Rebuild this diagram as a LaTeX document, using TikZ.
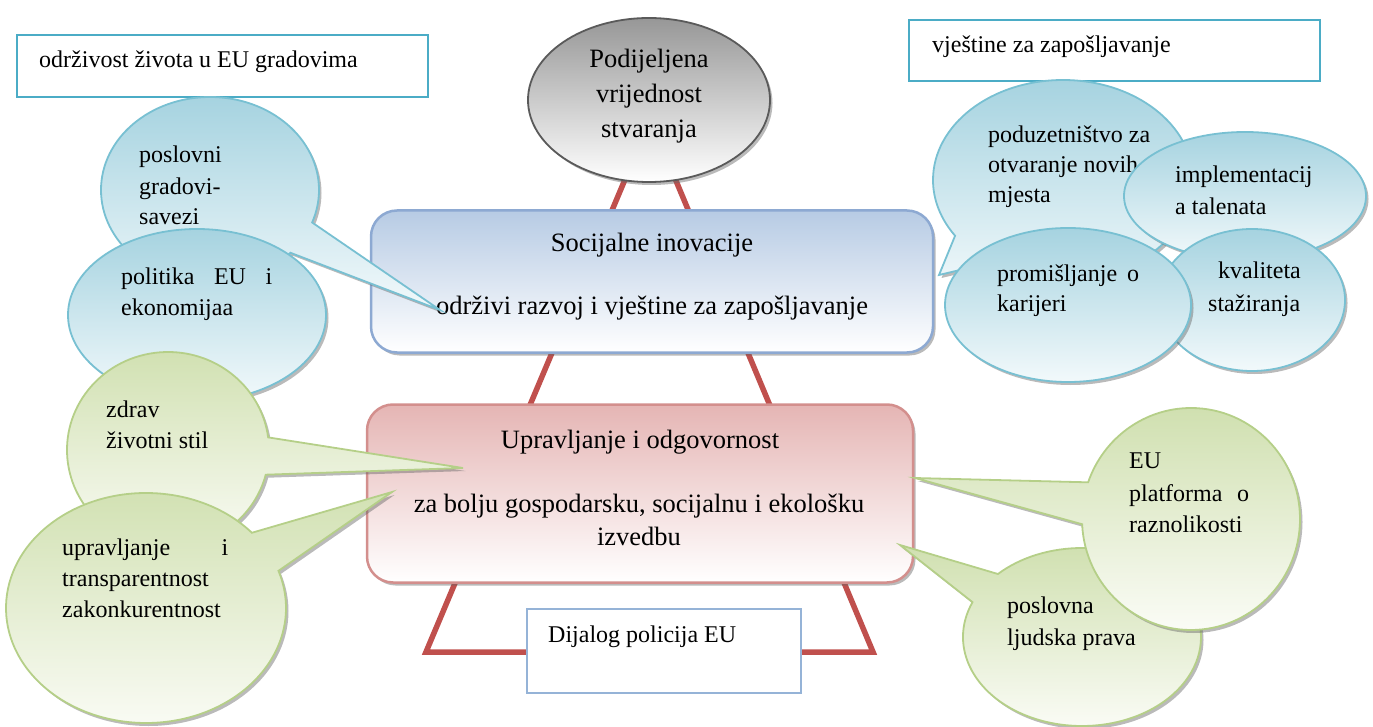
\documentclass[tikz,border=0pt]{standalone}
\usepackage{fontspec}
\setmainfont{Liberation Serif}
\usetikzlibrary{shapes.geometric,shapes.callouts,shadows}
\definecolor{bubtop}{HTML}{A6D3E0}
\definecolor{bubbot}{HTML}{F2F9FB}
\definecolor{bubbord}{HTML}{78C0D2}
\definecolor{grtop}{HTML}{D0E0B0}
\definecolor{grbot}{HTML}{FBFCF7}
\definecolor{grbord}{HTML}{B5CF88}
\definecolor{bbtop}{HTML}{B7CBE4}
\definecolor{bbbord}{HTML}{8DA9D2}
\definecolor{rbtop}{HTML}{E5B5B4}
\definecolor{rbbord}{HTML}{D38F8D}
\definecolor{gytop}{HTML}{979797}
\definecolor{gybord}{HTML}{5A5A5A}
\definecolor{tealbord}{HTML}{4BACC6}
\definecolor{dialbord}{HTML}{95B3D7}
\definecolor{redline}{HTML}{C0504D}
\begin{document}
\begin{tikzpicture}[x=1pt,y=-1pt,
  bt/.style={font=\fontsize{24}{31}\selectfont, anchor=base west, inner sep=0pt},
  mt/.style={font=\fontsize{26.5}{33}\selectfont, anchor=base, inner sep=0pt},
  shad/.style={drop shadow={shadow xshift=2.5pt, shadow yshift=-3pt, opacity=.45, fill=gray!80!black}},
  bluebub/.style={ellipse callout, draw=bubbord, line width=1.8pt, top color=bubtop, bottom color=bubbot, inner sep=0pt, callout pointer arc=22, shad},
  blueell/.style={ellipse, draw=bubbord, line width=1.8pt, top color=bubtop, bottom color=bubbot, inner sep=0pt, shad},
  greenbub/.style={ellipse callout, draw=grbord, line width=1.8pt, top color=grtop, bottom color=grbot, inner sep=0pt, callout pointer arc=22, shad},
  textbox/.style={rectangle, draw=tealbord, line width=2.2pt, fill=white, inner sep=0pt},
  mainbox/.style={rectangle, rounded corners=26pt, line width=2.5pt, inner sep=0pt, shad},
  redleg/.style={draw=redline, line width=5.5pt, line join=miter}
]
\useasboundingbox (0,0) rectangle (1373,727);

% red trapezoid behind
\coordinate (ttl) at (629,170);
\coordinate (tbl) at (426,652);
\coordinate (tbr) at (873,652);
\coordinate (ttr) at (671.5,170);
\draw[redleg] (ttl) -- (tbl) -- (tbr) -- (ttr);

% gray ellipse
\node[ellipse, draw=gybord, line width=1.8pt, top color=gytop, bottom color=white, inner sep=0pt,
  minimum width=242pt, minimum height=164pt, shad] (pod) at (649,100) {};
\node[mt] (pod1) at (649,68) {Podijeljena};
\node[mt] (pod2) at (649,103) {vrijednost};
\node[mt] (pod3) at (649,138) {stvaranja};

% top text boxes
\node[textbox, minimum width=411pt, minimum height=62pt] (tlbox) at (222.5,66) {};
\node[bt] (tlt) at (39,68) {održivost života u EU gradovima};
\node[textbox, minimum width=411pt, minimum height=61pt] (trbox) at (1114.5,50.5) {};
\node[bt] (trt) at (932,53) {vještine za zapošljavanje};

% blue main box
\node[mainbox, draw=bbbord, top color=bbtop, bottom color=white,
  minimum width=562pt, minimum height=142pt] (soc) at (652,281.5) {};
\node[mt] (soc1) at (652,252) {Socijalne inovacije};
\node[mt] (soc2) at (652,314) {održivi razvoj i vještine za zapošljavanje};

% red main box
\node[mainbox, draw=rbbord, top color=rbtop, bottom color=white,
  minimum width=546pt, minimum height=178pt] (upr) at (640,493.5) {};
\node[mt] (upr1) at (640,448) {Upravljanje i odgovornost};
\node[mt] (upr2) at (639,512) {za bolju gospodarsku, socijalnu i ekološku};
\node[mt] (upr3) at (639,545) {izvedbu};

% dialog box
\node[rectangle, draw=dialbord, line width=2pt, fill=white, inner sep=0pt,
  minimum width=274pt, minimum height=84pt] (dij) at (664,651) {};
\node[bt] (dijt) at (548,642) {Dijalog policija EU};

% left blue bubbles
\node[bluebub, minimum width=218pt, minimum height=186pt, callout absolute pointer={(440,310)}] (b1) at (210,190) {};
\node[bt] (b1a) at (139,163) {poslovni};
\node[bt] (b1b) at (139,195) {gradovi-};
\node[bt] (b1c) at (139,225) {savezi};
\node[blueell, minimum width=258pt, minimum height=172pt] (b2) at (197,315) {};
\node[bt] (b2a) at (121,285) {\makebox[151pt][s]{politika EU i}};
\node[bt] (b2b) at (121,316) {ekonomijaa};

% left green bubbles
\node[greenbub, minimum width=202pt, minimum height=196pt, callout absolute pointer={(463,468)}] (g1) at (168,450) {};
\node[bt] (g1a) at (106,417) {zdrav};
\node[bt] (g1b) at (106,448) {životni stil};
\node[greenbub, minimum width=280pt, minimum height=230pt, callout absolute pointer={(392,492)}] (g2) at (146,608) {};
\node[bt] (g2a) at (62,555) {\makebox[166pt][s]{upravljanje i}};
\node[bt] (g2b) at (62,586) {transparentnost};
\node[bt] (g2c) at (62,617) {zakonkurentnost};

% right blue bubbles
\node[bluebub, minimum width=260pt, minimum height=200pt, callout absolute pointer={(939,275)}] (r1) at (1063,180) {};
\node[bt] (r1a) at (988,143) {poduzetništvo za};
\node[bt] (r1b) at (988,173) {otvaranje novih};
\node[bt] (r1c) at (988,203) {mjesta};
\node[blueell, minimum width=242pt, minimum height=128pt] (r2) at (1245,196) {};
\node[bt] (r2a) at (1175,183) {implementacij};
\node[bt] (r2b) at (1175,215) {a talenata};
\node[blueell, minimum width=186pt, minimum height=142pt] (r3) at (1252,300) {};
\node[bt] (r3a) at (1218,279) {kvaliteta};
\node[bt] (r3b) at (1208,312) {stažiranja};
\node[blueell, minimum width=246pt, minimum height=154pt] (r4) at (1068,305) {};
\node[bt] (r4a) at (997,282) {\makebox[142pt][s]{promišljanje o}};
\node[bt] (r4b) at (997,312) {karijeri};

% right green bubbles
\node[greenbub, minimum width=238pt, minimum height=178pt, callout absolute pointer={(900,545)}] (g3) at (1082,637) {};
\node[bt] (g3a) at (1007,613) {poslovna};
\node[bt] (g3b) at (1007,645) {ljudska prava};
\node[greenbub, minimum width=218pt, minimum height=222pt, callout absolute pointer={(915,478)}] (g4) at (1191,519) {};
\node[bt] (g4a) at (1129,468) {EU};
\node[bt] (g4b) at (1129,501) {\makebox[120pt][s]{platforma o}};
\node[bt] (g4c) at (1129,532) {raznolikosti};
\end{tikzpicture}
\end{document}
